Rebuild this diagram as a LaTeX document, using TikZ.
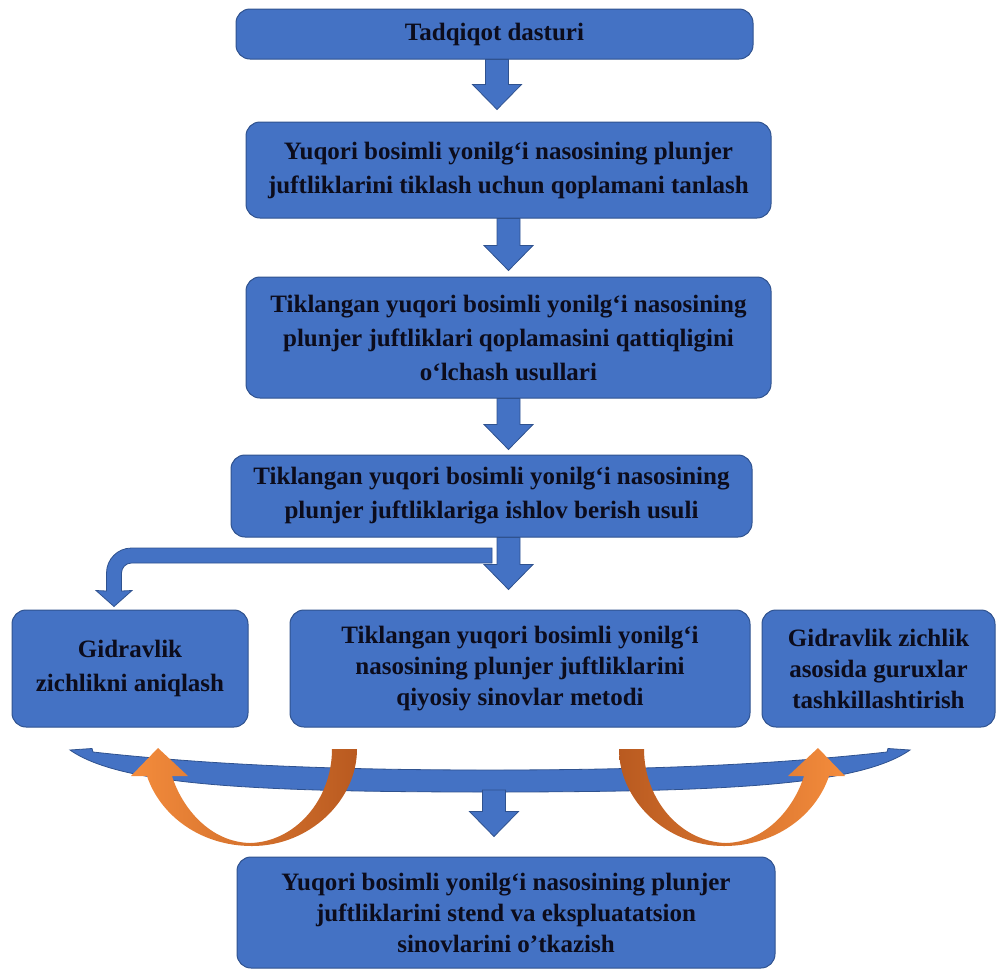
\documentclass[tikz,border=0pt]{standalone}
\usepackage{fontspec}
\setmainfont{Liberation Serif}
\usetikzlibrary{calc}
\definecolor{bfill}{HTML}{4472C4}
\definecolor{bdraw}{HTML}{2F528F}
\definecolor{otxt}{HTML}{0C0C1C}
\definecolor{olight}{HTML}{F48C3C}
\definecolor{odark}{HTML}{B95A20}
\tikzset{
  box/.style={draw=bdraw, fill=bfill, line width=1pt, rounded corners=14pt,
    align=center, text=otxt, inner sep=0pt,
    font=\fontsize{25}{34}\selectfont\bfseries},
  tightbox/.style={box, font=\fontsize{25}{31}\selectfont\bfseries},
  barrow/.style={draw=bdraw, fill=bfill, line width=0.8pt},
  oarrow/.style={left color=olight, right color=odark, draw=none},
}
\newcommand\blockdown[2]{%
  \draw[barrow] ($(#1)+(-11.5,0)$) -- ($(#1)+(11.5,0)$)
    -- ($(#2)+(11.5,-25)$) -- ($(#2)+(24.5,-25)$) -- (#2)
    -- ($(#2)+(-24.5,-25)$) -- ($(#2)+(-11.5,-25)$) -- cycle;}
\begin{document}
\begin{tikzpicture}[x=1pt,y=-1pt]
\useasboundingbox (0,0) rectangle (996,970);

\node[box, minimum width=517, minimum height=50] (b1) at (494.5,34) {Tadqiqot dasturi};
\node[box, minimum width=525, minimum height=96] (b2) at (508.5,170)
  {Yuqori bosimli yonilg‘i nasosining plunjer\\juftliklarini tiklash uchun qoplamani tanlash};
\node[box, minimum width=525, minimum height=121] (b3) at (508.5,337.5)
  {Tiklangan yuqori bosimli yonilg‘i nasosining\\plunjer juftliklari qoplamasini qattiqligini\\o‘lchash usullari};
\node[box, minimum width=521, minimum height=82] (b4) at (491.5,496)
  {Tiklangan yuqori bosimli yonilg‘i nasosining\\plunjer juftliklariga ishlov berish usuli};
\node[box, minimum width=236, minimum height=117] (b5) at (130,668.5)
  {Gidravlik\\zichlikni aniqlash};
\node[tightbox, minimum width=460, minimum height=117] (b6) at (520,668.5)
  {Tiklangan yuqori bosimli yonilg‘i\\nasosining plunjer juftliklarini\\qiyosiy sinovlar metodi};
\node[tightbox, minimum width=233, minimum height=117] (b7) at (878.5,668.5)
  {Gidravlik zichlik\\asosida guruxlar\\tashkillashtirish};
\node[tightbox, minimum width=538, minimum height=111] (b8) at (506,912.5)
  {Yuqori bosimli yonilg‘i nasosining plunjer\\juftliklarini stend va ekspluatatsion\\sinovlarini o’tkazish};

% straight block arrows
\coordinate (a1s) at ($(b1.south)+(2.5,0)$);
\coordinate (a1e) at ($(a1s |- b2.north)+(0,-12)$);
\blockdown{a1s}{a1e}
\coordinate (a2s) at (b2.south);
\coordinate (a2e) at ($(a2s |- b3.north)+(0,-6)$);
\blockdown{a2s}{a2e}
\coordinate (a3s) at (b3.south);
\coordinate (a3e) at ($(a3s |- b4.north)+(0,-5)$);
\blockdown{a3s}{a3e}
\coordinate (a4s) at ($(b4.south)+(17,0)$);
\coordinate (a4e) at ($(a4s |- b6.north)+(0,-20)$);
\blockdown{a4s}{a4e}

% bent arrow to the left box
\coordinate (bt) at ($(b5.north)+(-16,-3)$);
\draw[barrow] (492,548) -- (131.5,548)
  .. controls (117.7,548) and (106.5,559.2) .. (106.5,573)
  -- (106.5,591) -- ($(bt)+(-18,-16)$) -- (bt) -- ($(bt)+(18,-16)$)
  -- (121.5,591) -- (121.5,573)
  .. controls (121.5,567.5) and (126,563) .. (131.5,563)
  -- (492,563) -- cycle;

% curved blue bar
\draw[barrow] (70,750) -- (92,748.5) -- (93,752)
  .. controls (220,766) and (350,770) .. (490,770)
  .. controls (630,770) and (760,766) .. (887,752)
  -- (888,748.5) -- (910,750)
  .. controls (860,785) and (730,792) .. (490,792)
  .. controls (250,792) and (120,785) .. (70,750) -- cycle;

\coordinate (a5s) at (494,790);
\coordinate (a5e) at ($(a5s |- b8.north)+(0,-20)$);
\blockdown{a5s}{a5e}

% orange curved arrows
\shade[oarrow] (332,749) -- (357,749)
  .. controls (357,800) and (310,846) .. (252,846)
  .. controls (200,846) and (160,815) .. (147,776)
  -- (131,776) -- (158,748) -- (188,776) -- (172,776)
  .. controls (182,808) and (210,842) .. (250,843)
  .. controls (295,842) and (332,800) .. (332,749) -- cycle;
\shade[left color=odark, right color=olight, draw=none] (644,749) -- (619,749)
  .. controls (619,800) and (666,846) .. (724,846)
  .. controls (776,846) and (816,815) .. (829,776)
  -- (845,776) -- (818,748) -- (788,776) -- (804,776)
  .. controls (794,808) and (766,842) .. (726,843)
  .. controls (681,842) and (644,800) .. (644,749) -- cycle;
\end{tikzpicture}
\end{document}
